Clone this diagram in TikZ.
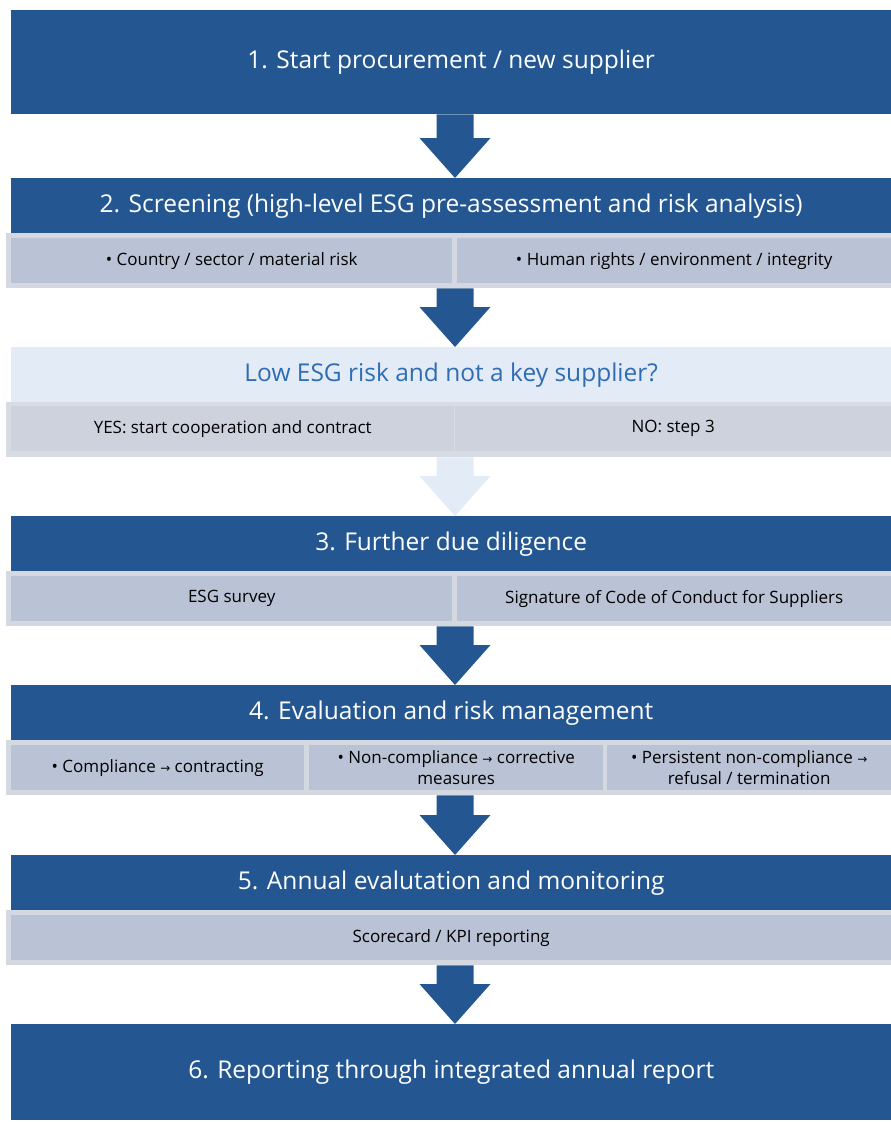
\documentclass[tikz,border=0pt]{standalone}
\usepackage{fontspec}
\setmainfont{Open Sans}
\newfontfamily\arrowfont{DejaVu Sans}
\usetikzlibrary{calc}
\definecolor{stepblue}{HTML}{245791}
\definecolor{cellgray}{HTML}{B9C3D5}
\definecolor{framegray}{HTML}{D3D8E1}
\definecolor{askfill}{HTML}{E3EBF7}
\definecolor{asktext}{HTML}{2E6DB4}
\definecolor{askgray}{HTML}{CDD2DC}
\definecolor{askframe}{HTML}{D7DBE3}
\newcommand{\toarr}{{\arrowfont\fontsize{12}{12}\selectfont →}}
\tikzset{
  stephead/.style={fill=stepblue, text=white, font=\fontsize{24.5}{29}\selectfont,
    anchor=north west, minimum width=880pt, minimum height=55pt, inner sep=0pt},
  rowframe/.style={fill=framegray, anchor=north west, minimum width=885pt,
    minimum height=55pt, inner sep=0pt},
  cell/.style={fill=cellgray, anchor=north west, minimum height=45pt, inner sep=0pt,
    font=\fontsize{17}{21}\selectfont, align=center}
}
\begin{document}
\begin{tikzpicture}[x=1pt,y=-1pt]
\useasboundingbox (0,0) rectangle (891,1122);
\coordinate (mid) at (455,0);

\node (s1) [stephead, minimum height=104pt] at (11,10) {1. Start procurement / new supplier};

\node (s2) [stephead] at (11,178) {2. Screening (high-level ESG pre-assessment and risk analysis)};
\node (r2) [rowframe] at (6,233) {};
\node (r2a) [cell, minimum width=441pt] at (11,238) {• Country / sector / material risk};
\node (r2b) [cell, minimum width=434pt] at (457,238) {• Human rights / environment / integrity};

\node (q) [stephead, fill=askfill, text=asktext] at (11,347) {Low ESG risk and not a key supplier?};
\node (rq) [rowframe, fill=askframe] at (6,402) {};
\node (rqa) [cell, fill=askgray, minimum width=443pt] at (11,406) {YES: start cooperation and contract};
\node (rqb) [cell, fill=askgray, minimum width=436pt] at (455,406) {NO: step 3};

\node (s3) [stephead] at (11,516) {3. Further due diligence};
\node (r3) [rowframe] at (6,571) {};
\node (r3a) [cell, minimum width=441pt] at (11,576) {ESG survey};
\node (r3b) [cell, minimum width=434pt] at (457,576) {Signature of Code of Conduct for Suppliers};

\node (s4) [stephead] at (11,685) {4. Evaluation and risk management};
\node (r4) [rowframe] at (6,740) {};
\node (r4a) [cell, minimum width=293pt] at (11,745) {• Compliance \toarr{} contracting};
\node (r4b) [cell, minimum width=294pt] at (309,745) {• Non-compliance \toarr{} corrective\\measures};
\node (r4c) [cell, minimum width=284pt] at (607,745) {• Persistent non-compliance \toarr\\refusal / termination};

\node (s5) [stephead] at (11,855) {5. Annual evalutation and monitoring};
\node (r5) [rowframe] at (6,910) {};
\node (r5a) [cell, minimum width=880pt] at (11,915) {Scorecard / KPI reporting};

\node (s6) [stephead, minimum height=96pt] at (11,1024) {6. Reporting through integrated annual report};

% block arrows between the steps
\foreach \a/\b/\c in {s1/s2/stepblue, r2/q/stepblue, rq/s3/askfill, r3/s4/stepblue, r4/s5/stepblue, r5/s6/stepblue}
  \fill[\c] ($(\a.south -| mid)+(-18.5,0)$) -- ($(\b.north -| mid)+(-18.5,-40)$) -- ++(-17,0)
    -- (\b.north -| mid) -- ($(\b.north -| mid)+(35.5,-40)$) -- ++(-17,0)
    -- ($(\a.south -| mid)+(18.5,0)$) -- cycle;
\end{tikzpicture}
\end{document}
